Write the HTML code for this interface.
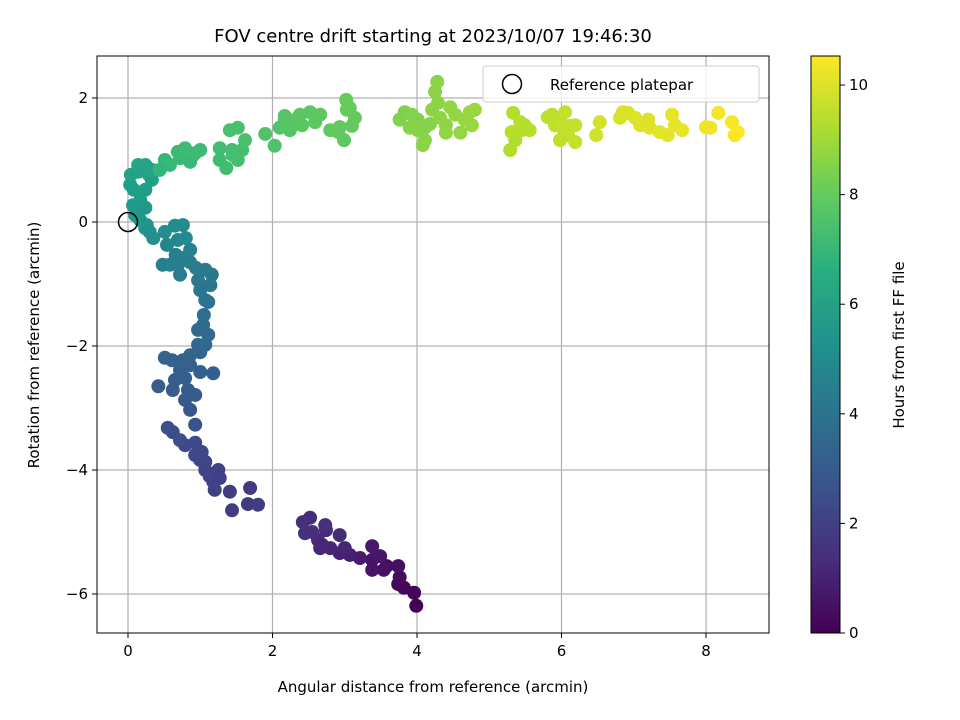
<!DOCTYPE html>
<html><head><meta charset="utf-8"><style>
html,body{margin:0;padding:0;background:#fff;}
svg{display:block;font-family:"DejaVu Sans","Liberation Sans",sans-serif;}
</style></head><body>
<svg id="chart" width="960" height="720" viewBox="0 0 960 720">
<defs>
<linearGradient id="vir" x1="0" y1="1" x2="0" y2="0">
<stop offset="0" stop-color="#440154"/><stop offset="0.125" stop-color="#472d7b"/><stop offset="0.25" stop-color="#3b528b"/><stop offset="0.375" stop-color="#2c728e"/><stop offset="0.5" stop-color="#21918c"/><stop offset="0.625" stop-color="#28ae80"/><stop offset="0.75" stop-color="#5ec962"/><stop offset="0.875" stop-color="#addc30"/><stop offset="1" stop-color="#fde725"/>
</linearGradient>
</defs>
<rect x="0" y="0" width="960" height="720" fill="#fff"/>
<text x="433" y="42" font-size="18" text-anchor="middle">FOV centre drift starting at 2023/10/07 19:46:30</text>
<g id="grid"></g>
<g id="points"></g>
<circle cx="128" cy="222" r="9.5" fill="none" stroke="#000" stroke-width="1.5"/>
<rect x="97" y="56" width="672" height="577" fill="none" stroke="#000" stroke-width="1"/>
<g id="xticks"></g>
<g id="yticks"></g>
<text x="433" y="692" font-size="15" text-anchor="middle">Angular distance from reference (arcmin)</text>
<text transform="translate(39,345) rotate(-90)" font-size="15" text-anchor="middle">Rotation from reference (arcmin)</text>
<g>
<rect x="483" y="66" width="276" height="36" rx="3" fill="#fff" fill-opacity="0.8" stroke="#ccc"/>
<circle cx="512" cy="84" r="9.5" fill="none" stroke="#000" stroke-width="1.5"/>
<text x="550" y="90" font-size="15">Reference platepar</text>
</g>
<rect x="811" y="56" width="29" height="577" fill="url(#vir)" stroke="#000" stroke-width="1"/>
<g id="cticks"></g>
<text transform="translate(904,345) rotate(-90)" font-size="15" text-anchor="middle">Hours from first FF file</text>
</svg>
<script>
const xTicks=[0,2,4,6,8];
const yTicks=[2,0,-2,-4,-6];
const cTicks=[0,2,4,6,8,10];
const xs=[3.99,3.96,3.82,3.74,3.76,3.58,3.74,3.54,3.38,3.38,3.49,3.38,3.21,3.07,2.93,3.00,2.80,2.66,2.63,2.74,2.93,2.52,2.73,2.42,2.45,2.69,2.55,
1.69,1.66,1.44,1.41,1.80,1.20,1.18,1.13,1.07,1.00,0.93,0.79,0.72,0.62,0.55,0.93,1.02,1.07,1.27,1.25,0.93,0.86,0.79,0.93,0.83,0.72,0.65,0.62,0.42,0.79,0.61,0.76,0.86,1.00,1.18,0.51,0.97,0.86,1.00,1.07,1.04,1.11,0.97,1.05,1.07,1.00,1.11,1.14,1.07,1.16,0.97,0.94,0.86,0.75,0.86,0.66,0.58,0.69,0.48,0.72,0.54,0.69,0.80,0.76,0.65,0.51,0.30,0.35,0.24,0.17,0.26,0.10,0.07,0.17,0.24,0.03,0.08,0.24,0.29,0.33,0.24,0.14,0.04,0.14,0.21,0.33,
0.51,0.58,0.72,0.89,1.00,0.86,0.69,0.79,0.93,0.44,1.27,1.36,1.27,1.44,1.52,1.58,1.41,1.52,1.62,1.45,
1.90,2.03,2.10,2.17,2.24,2.17,2.28,2.35,2.41,2.52,2.59,2.66,2.80,2.93,2.91,2.99,3.10,3.14,3.03,3.02,3.07,2.38,
3.76,3.83,3.93,4.01,3.90,4.01,4.11,4.18,4.11,4.08,4.21,4.25,4.28,4.29,4.32,4.40,4.46,4.53,4.40,4.60,4.66,4.73,4.80,4.76,
5.29,5.36,5.31,5.45,5.33,5.49,5.56,5.43,5.81,5.87,5.91,5.98,6.05,6.01,6.12,6.19,6.09,6.19,5.98,
6.48,6.53,6.81,6.85,6.92,7.09,7.02,7.22,7.20,7.36,7.47,7.53,7.57,7.67,8.00,8.06,8.17,8.36,8.40,8.44];
const ys=[-6.19,-5.98,-5.90,-5.84,-5.73,-5.55,-5.55,-5.61,-5.61,-5.45,-5.39,-5.23,-5.42,-5.37,-5.34,-5.26,-5.26,-5.26,-5.13,-4.97,-5.05,-4.77,-4.89,-4.84,-5.02,-5.21,-5.00,
-4.29,-4.55,-4.65,-4.35,-4.56,-4.32,-4.19,-4.10,-4.00,-3.84,-3.76,-3.60,-3.52,-3.39,-3.32,-3.56,-3.71,-3.87,-4.13,-4.00,-3.27,-3.03,-2.87,-2.79,-2.71,-2.39,-2.55,-2.71,-2.65,-2.52,-2.23,-2.23,-2.31,-2.42,-2.44,-2.19,-1.98,-2.15,-2.10,-1.98,-1.66,-1.82,-1.74,-1.50,-1.26,-1.10,-1.29,-1.02,-0.77,-0.85,-0.94,-0.74,-0.65,-0.58,-0.45,-0.53,-0.69,-0.69,-0.69,-0.85,-0.37,-0.29,-0.26,-0.05,-0.06,-0.16,-0.16,-0.26,-0.10,0.03,-0.05,0.11,0.27,0.35,0.23,0.60,0.52,0.52,0.76,0.68,0.92,0.81,0.76,0.92,0.84,0.84,
1.00,0.92,1.03,1.06,1.16,0.97,1.13,1.19,1.11,0.84,1.00,0.87,1.19,1.16,1.00,1.16,1.48,1.52,1.32,1.08,
1.42,1.23,1.52,1.65,1.48,1.71,1.56,1.68,1.56,1.77,1.61,1.73,1.48,1.53,1.45,1.32,1.55,1.68,1.81,1.97,1.84,1.73,
1.65,1.77,1.73,1.65,1.52,1.48,1.52,1.58,1.32,1.24,1.81,2.10,2.26,1.92,1.68,1.56,1.85,1.73,1.44,1.44,1.65,1.77,1.81,1.56,
1.16,1.32,1.45,1.48,1.76,1.56,1.48,1.61,1.69,1.73,1.56,1.65,1.77,1.52,1.55,1.56,1.40,1.29,1.32,
1.40,1.61,1.68,1.77,1.76,1.56,1.68,1.52,1.65,1.45,1.40,1.73,1.56,1.48,1.53,1.52,1.76,1.61,1.40,1.45];
const hours=[0.0,0.1,0.15,0.2,0.3,0.4,0.45,0.5,0.55,0.6,0.65,0.7,0.8,0.9,1.0,1.05,1.1,1.15,1.2,1.25,1.3,1.35,1.4,1.45,1.5,1.2,1.4,
1.8,1.8,1.9,1.9,1.85,2.0,2.05,2.1,2.15,2.2,2.3,2.4,2.45,2.5,2.55,2.4,2.3,2.2,2.0,2.05,2.7,2.8,2.9,3.0,3.0,3.2,3.1,3.05,3.1,3.15,3.3,3.3,3.25,3.2,3.2,3.35,3.5,3.4,3.45,3.5,3.7,3.6,3.65,3.8,4.0,4.1,3.95,4.15,4.3,4.25,4.2,4.35,4.4,4.5,4.6,4.55,4.5,4.45,4.6,4.4,4.8,4.9,5.0,5.1,5.1,5.2,5.3,5.25,5.4,5.5,5.45,5.6,5.7,5.75,5.65,5.9,5.85,5.85,6.0,5.95,6.1,6.05,6.05,6.2,6.1,6.15,
7.0,7.05,7.1,7.15,7.2,7.1,7.15,7.2,7.2,6.9,7.25,7.3,7.3,7.35,7.35,7.4,7.45,7.45,7.5,7.4,
7.6,7.6,7.65,7.7,7.7,7.7,7.75,7.75,7.8,7.8,7.85,7.85,7.9,7.95,7.95,7.9,8.0,8.0,8.05,8.05,8.05,7.8,
8.5,8.5,8.55,8.55,8.6,8.6,8.6,8.6,8.65,8.65,8.7,8.7,8.7,8.7,8.75,8.75,8.8,8.8,8.8,8.85,8.85,8.9,8.9,8.9,
9.3,9.3,9.35,9.35,9.35,9.4,9.4,9.4,9.5,9.5,9.55,9.55,9.6,9.6,9.6,9.65,9.6,9.65,9.55,
9.8,9.85,9.9,9.95,9.95,10.0,10.0,10.05,10.05,10.1,10.1,10.15,10.15,10.2,10.3,10.3,10.35,10.4,10.45,10.5];
const NS="http://www.w3.org/2000/svg";
const X0=97,X1=769,Y0=56,Y1=633;
const xMin=-0.429,xMax=8.872,yMin=-6.629,yMax=2.677,cMax=10.53;
function sx(v){return X0+(v-xMin)/(xMax-xMin)*(X1-X0);}
function sy(v){return Y1-(v-yMin)/(yMax-yMin)*(Y1-Y0);}
function sc(v){return Y1-v/cMax*(Y1-Y0);}
const vir=[[68,1,84],[72,40,120],[62,74,137],[49,104,142],[38,130,142],[31,158,137],[53,183,121],[109,205,89],[180,222,44],[253,231,37]];
function color(t){let f=Math.max(0,Math.min(1,t/cMax))*(vir.length-1);let i=Math.min(vir.length-2,Math.floor(f));let r=f-i;
const c=vir[i].map((a,k)=>Math.round(a+(vir[i+1][k]-a)*r));return `rgb(${c[0]},${c[1]},${c[2]})`;}
function mk(tag,attrs,parent){const e=document.createElementNS(NS,tag);for(const k in attrs)e.setAttribute(k,attrs[k]);parent.appendChild(e);return e;}
const grid=document.getElementById('grid'),gx=document.getElementById('xticks'),gy=document.getElementById('yticks'),gc=document.getElementById('cticks'),gp=document.getElementById('points');
xTicks.forEach(v=>{const p=sx(v);
const l=mk('line',{x1:p,x2:p,y1:Y0,y2:Y1,stroke:'#b0b0b0','stroke-width':1.2},grid);


const t=mk('line',{x1:p,x2:p,y1:Y1,y2:Y1+5,stroke:'#000'},gx);


const s=mk('text',{x:p,y:Y1+23,'font-size':15,'text-anchor':'middle'},gx);s.textContent=v;

});
yTicks.forEach(v=>{const p=sy(v);
const l=mk('line',{x1:X0,x2:X1,y1:p,y2:p,stroke:'#b0b0b0','stroke-width':1.2},grid);


const t=mk('line',{x1:X0-5,x2:X0,y1:p,y2:p,stroke:'#000'},gy);


const s=mk('text',{x:X0-9,y:p+5,'font-size':15,'text-anchor':'end'},gy);s.textContent=(v<0?'\u2212'+(-v):v);

});
cTicks.forEach(v=>{const p=sc(v);
const t=mk('line',{x1:840,x2:845,y1:p,y2:p,stroke:'#000'},gc);


const s=mk('text',{x:849,y:p+5,'font-size':15},gc);s.textContent=v;

});
xs.forEach((v,i)=>{const c=mk('circle',{cx:sx(v),cy:sy(ys[i]),r:7,fill:color(hours[i])},gp);

});
</script>
</body></html>
